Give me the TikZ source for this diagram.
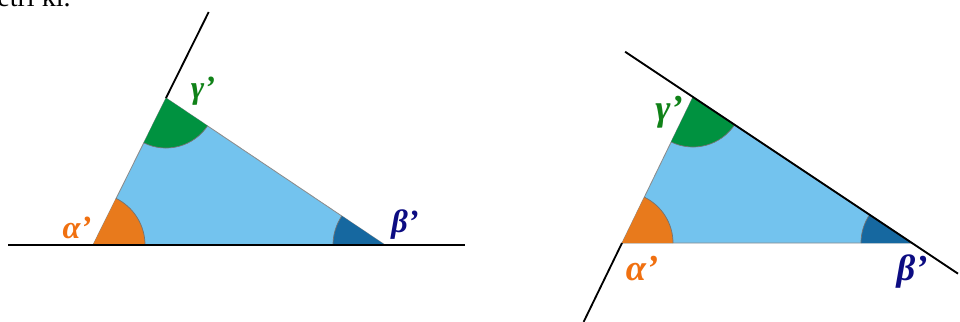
\documentclass[tikz,border=0pt]{standalone}
\usepackage{fontspec}
\setmainfont{Liberation Serif}
\usepackage{xcolor}
\usetikzlibrary{angles, calc}

\definecolor{triblue}{RGB}{115,195,238}
\definecolor{angorange}{RGB}{232,122,28}
\definecolor{anggreen}{RGB}{0,146,64}
\definecolor{angblue}{RGB}{22,104,160}
\definecolor{lblorange}{RGB}{240,112,16}
\definecolor{lblgreen}{RGB}{16,130,24}
\definecolor{lblnavy}{RGB}{12,12,130}

\begin{document}
\begin{tikzpicture}[
  x=0.025cm, y=-0.025cm,
  tri/.style={fill=triblue, draw=black!45, line width=0.6pt},
  ray/.style={draw=black, line width=1.3pt},
  sector/.style={draw=black!55, line width=0.5pt, angle radius=1.3cm},
  alab/.style={font=\fontsize{23}{23}\selectfont\bfseries\itshape, inner sep=0pt},
  blab/.style={font=\fontsize{26}{26}\selectfont\bfseries\itshape, inner sep=0pt},
]
\useasboundingbox (0,0) rectangle (960,322);

% Text cut off at the top
\node[anchor=base west, inner sep=0pt, font=\fontsize{20}{20}\selectfont] (cut) at (-3,6) {etri ki.};

% Left triangle
\coordinate (A1) at (93,245);
\coordinate (B1) at (385,245);
\coordinate (C1) at (166,98);
\path[tri] (A1) -- (B1) -- (C1) -- cycle;
\pic[sector, fill=angorange] {angle=B1--A1--C1};
\pic[sector, fill=anggreen, angle radius=1.25cm] {angle=A1--C1--B1};
\pic[sector, fill=angblue] {angle=C1--B1--A1};
\coordinate (L1) at (8,245);
\coordinate (R1) at (465,245);
\coordinate (T1) at ($(A1)!1.585!(C1)$);
\draw[ray] (L1) -- (R1);
\draw[ray] (C1) -- (T1);
\node[alab, text=lblorange] (a1) at (77,228) {α’};
\node[alab, text=lblgreen] (g1) at (203,91) {γ’};
\node[alab, text=lblnavy] (b1) at (405,225) {β’};

% Right triangle
\coordinate (A2) at (622,243);
\coordinate (B2) at (912,243);
\coordinate (C2) at (693,97);
\path[tri] (A2) -- (B2) -- (C2) -- cycle;
\pic[sector, fill=angorange, angle radius=1.275cm] {angle=B2--A2--C2};
\pic[sector, fill=anggreen, angle radius=1.25cm] {angle=A2--C2--B2};
\pic[sector, fill=angblue, angle radius=1.275cm] {angle=C2--B2--A2};
\coordinate (T2) at ($(C2)!-0.31!(B2)$);
\coordinate (E2) at ($(C2)!1.21!(B2)$);
\coordinate (D2) at ($(C2)!1.54!(A2)$);
\draw[ray] (T2) -- (E2);
\draw[ray] (A2) -- (D2);
\node[blab, text=lblgreen] (g2) at (669,112) {γ’};
\node[blab, text=lblorange] (a2) at (642,269) {α’};
\node[blab, text=lblnavy] (b2) at (912,272) {β’};

\end{tikzpicture}
\end{document}
